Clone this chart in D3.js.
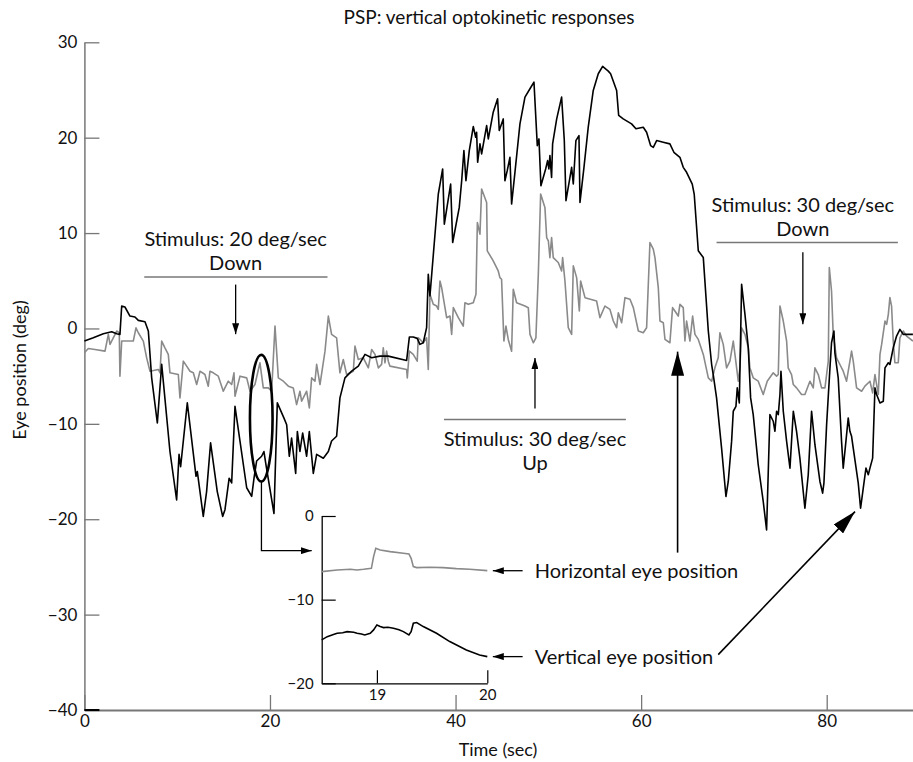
<!DOCTYPE html>
<html>
<head>
<meta charset="utf-8">
<title>PSP: vertical optokinetic responses</title>
<style>
  body { margin: 0; background: #fff; }
  text { font-family: Lato, "DejaVu Sans", sans-serif; fill: #111; }
</style>
</head>
<body>
<script src="https://cdn.jsdelivr.net/npm/d3@7/dist/d3.min.js"></script>
<script>

var width  = 913;
var height = 762;

// vertical eye position (black trace): time in sec, position in deg
var vertT = [0, 0.96, 2.04, 2.94, 3.48, 3.83, 4.02, 4.37, 4.91, 5.45, 5.81, 6.53, 6.89, 7.25, 7.86, 8.33, 9.22, 9.94, 10.2, 10.37,
  11.09, 12.03, 12.17, 12.81, 13.17, 13.6, 14.32, 14.9, 15.15, 15.6, 15.87, 16.23, 17.49, 18.03, 18.28, 18.56, 19.1, 19.35, 19.57, 20.43,
  20.79, 21.51, 21.8, 22.08, 22.33, 22.77, 22.95, 23.23, 23.52, 23.95, 24.24, 24.67, 25.03, 25.75, 26.29, 26.64, 27.18, 27.54, 28.08, 28.8,
  29.52, 30.24, 30.96, 31.85, 32.75, 34.73, 35.02, 35.44, 35.87, 36.16, 36.52, 36.88, 37.06, 37.24, 38.14, 38.61, 38.79, 39.47, 39.69, 40.4,
  40.66, 40.9, 41.12, 41.48, 41.91, 42.17, 42.27, 42.38, 42.63, 42.81, 43.35, 43.53, 44.06, 44.53, 44.71, 45.14, 45.32, 45.57, 45.86, 46.04,
  46.4, 46.94, 47.48, 48.02, 48.45, 48.81, 48.99, 49.2, 49.71, 49.92, 50.06, 50.17, 50.35, 50.46, 50.9, 51.43, 51.72, 51.9, 52.33, 52.51,
  52.69, 52.97, 53.3, 53.41, 53.84, 54.3, 54.84, 55.38, 55.85, 56.46, 56.71, 57.36, 57.58, 58.07, 58.97, 59.44, 60.23, 60.59, 61.02, 61.31,
  61.67, 62.38, 63.1, 63.53, 64.18, 64.54, 64.9, 65.51, 65.72, 66.16, 66.7, 67.24, 67.6, 67.77, 68.13, 68.67, 69.14, 69.39, 69.75, 69.93,
  70.22, 70.36, 70.58, 70.83, 71.19, 71.55, 71.8, 72.08, 72.62, 73.16, 73.52, 73.88, 74.24, 74.42, 74.6, 74.78, 74.96, 75.07, 75.32, 75.68,
  76.04, 76.4, 76.75, 77.11, 77.65, 78.01, 78.37, 78.73, 79.27, 79.56, 79.7, 79.99, 80.35, 80.52, 80.78, 80.88, 81.24, 81.6, 81.78, 82.07,
  82.32, 82.5, 82.68, 82.86, 83.4, 83.65, 83.94, 84.23, 84.48, 84.66, 84.95, 85.2, 85.38, 85.74, 86.1, 86.28, 86.64, 86.81, 87.17, 87.53,
  87.89, 88.25, 88.79, 89.29];
var vertV = [-1.32, -0.98, -0.55, -0.34, -0.55, -0.62, 2.35, 2.25, 1.3, 1.2, 0.85, 0.7, -0.27, -5.18, -9.91, -3.77, -12.9, -17.97, -13.2, -14.5,
  -7.8, -15.5, -15.0, -19.7, -17.1, -12.0, -17.1, -19.7, -19.0, -15.7, -16.2, -8.16, -16.7, -17.6, -15.7, -13.9, -13.4, -12.9, -14.3, -19.4,
  -7.8, -9.4, -10.1, -13.4, -11.5, -15.2, -10.8, -12.9, -10.96, -13.4, -10.8, -15.2, -13.2, -13.6, -12.9, -11.8, -11.3, -7.28, -5.18, -4.47,
  -3.95, -2.72, -3.07, -2.9, -2.9, -3.35, -0.9, -0.9, -1.04, -1.67, -1.5, 0.08, 5.68, 3.41, 14.09, 16.72, 10.94, 15.14, 9.01, 12.69,
  15.49, 18.65, 15.49, 18.65, 21.17, 20.04, 20.57, 17.42, 19.35, 18.3, 21.27, 19.87, 22.67, 24.08, 20.75, 21.97, 15.49, 16.54, 17.94, 13.04,
  16.37, 21.45, 24.25, 25.13, 25.83, 19.17, 19.87, 14.97, 16.72, 17.6, 16.72, 18.12, 15.84, 19.35, 21.97, 24.25, 19.7, 13.39, 15.84, 16.89,
  15.14, 19.7, 20.22, 13.21, 16.89, 21.1, 24.95, 26.7, 27.47, 26.98, 26.7, 24.95, 22.33, 21.97, 21.45, 20.93, 21.1, 20.57, 19.17, 18.99,
  19.7, 19.52, 19.35, 18.47, 17.94, 16.89, 16.37, 15.14, 14.09, 8.14, 7.43, -0.27, -3.78, -4.83, -7.28, -12.54, -17.62, -16.04, -11.84, -8.68,
  -8.16, -6.23, -7.81, 4.63, 1.48, -2.03, -7.28, -9.03, -14.29, -18.14, -21.12, -9.03, -9.73, -10.78, -8.68, -9.03, -6.93, -4.48, -8.68, -11.84,
  -14.64, -8.68, -10.78, -13.59, -18.85, -15.34, -8.68, -12.19, -16.04, -17.27, -16.22, -10.08, -4.13, -1.5, -0.27, -2.55, -5.18, -11.84, -14.64, -11.84,
  -9.38, -10.78, -11.31, -12.54, -16.22, -18.85, -16.74, -14.64, -15.34, -14.64, -13.59, -6.23, -6.93, -7.81, -7.63, -4.13, -3.6, -3.78, -2.03, -0.8,
  -0.1, -0.62, -0.62, -0.62];

// horizontal eye position (grey trace)
var horizT = [0, 0.42, 1.14, 2.22, 2.58, 2.76, 3.48, 3.76, 3.83, 4.02, 5.27, 5.56, 5.81, 6.35, 6.71, 7.07, 7.97, 8.15, 8.33, 8.68,
  9.04, 9.22, 10.12, 10.3, 10.66, 11.02, 11.38, 11.74, 12.1, 12.46, 12.99, 13.35, 13.53, 13.89, 14.43, 14.97, 15.51, 15.87, 16.12, 16.23,
  16.77, 17.49, 17.85, 18.38, 18.92, 19.28, 19.82, 20.18, 20.54, 20.9, 21.44, 21.98, 22.51, 22.87, 23.23, 23.41, 23.95, 24.24, 24.49, 24.85,
  25.03, 25.39, 25.93, 26.29, 26.64, 27.18, 27.54, 27.9, 28.26, 28.98, 29.16, 29.52, 30.06, 30.6, 30.96, 31.32, 31.68, 32.03, 32.21, 32.39,
  32.57, 32.75, 32.93, 34.73, 34.8, 35.02, 35.44, 35.87, 35.98, 36.16, 36.52, 36.88, 37.06, 37.24, 37.6, 37.96, 38.14, 38.32, 38.5, 38.86,
  39.04, 39.4, 39.58, 39.76, 40.3, 40.83, 41.01, 41.37, 41.91, 42.2, 42.35, 42.63, 42.81, 43.35, 43.42, 44.06, 44.6, 44.78, 44.96, 45.21,
  45.43, 45.68, 46.04, 46.22, 46.58, 47.48, 47.84, 48.02, 48.38, 48.66, 48.92, 49.17, 49.63, 49.82, 50.0, 50.17, 50.35, 50.53, 51.07, 51.43,
  51.54, 51.79, 52.15, 52.51, 52.69, 53.05, 53.34, 53.48, 53.95, 55.2, 55.56, 56.1, 56.64, 57.0, 57.36, 57.54, 57.9, 58.26, 58.8, 59.16,
  59.7, 60.23, 60.59, 60.95, 61.31, 61.49, 61.85, 62.03, 62.39, 62.57, 63.1, 63.39, 63.64, 64.0, 64.18, 64.54, 64.72, 64.9, 65.26, 65.55,
  65.8, 66.16, 66.7, 67.24, 67.6, 67.95, 68.31, 68.49, 68.85, 69.21, 69.57, 69.93, 70.11, 70.47, 70.65, 70.83, 71.19, 71.55, 71.72, 72.08,
  72.62, 73.16, 73.59, 74.24, 74.6, 74.78, 74.96, 75.32, 75.68, 75.85, 76.21, 76.4, 76.75, 77.29, 77.65, 78.19, 78.55, 78.73, 79.09, 79.45,
  79.81, 80.17, 80.28, 80.52, 80.7, 81.06, 81.42, 81.78, 82.14, 82.5, 82.68, 82.86, 83.22, 83.76, 84.12, 84.66, 84.95, 85.2, 85.56, 85.74,
  85.92, 86.28, 86.46, 86.64, 86.81, 86.99, 87.17, 87.35, 87.71, 87.89, 88.25, 88.61, 89.29];
var horizV = [-2.55, -2.1, -2.2, -2.38, -0.62, -1.67, -0.27, -0.45, -5.0, -1.32, -1.32, 0.07, -0.45, -1.32, -3.08, -4.48, -4.3, -4.65, -1.32, -2.03,
  -2.72, -4.65, -4.83, -7.28, -3.43, -3.95, -4.48, -4.65, -5.88, -4.48, -4.83, -6.05, -4.48, -4.65, -5.0, -6.58, -5.53, -5.88, -4.65, -7.1,
  -5.0, -5.18, -6.58, -5.88, -3.6, -6.23, -6.23, -6.58, 0.25, -5.18, -5.53, -6.05, -6.23, -7.98, -6.58, -7.63, -6.58, -8.33, -5.18, -5.53,
  -3.77, -5.88, -2.38, 1.3, -0.62, -0.98, -4.65, -3.25, -4.83, -4.48, -1.85, -3.25, -3.08, -4.13, -2.2, -2.72, -4.13, -3.77, -2.03, -3.6,
  -2.38, -3.43, -3.95, -4.3, -5.18, -2.38, -2.72, -3.43, -0.98, -1.15, -1.5, -0.98, -4.3, 3.58, 2.53, 2.35, 2.0, 4.98, 4.28, 2.18,
  1.13, 1.3, -0.62, 2.18, 1.13, 0.25, 2.7, 2.53, 2.7, 3.58, 11.11, 9.89, 14.62, 13.21, 8.14, 7.08, 6.03, 5.33, 5.16, -1.32,
  0.25, -1.15, -2.38, 4.11, 2.7, 2.35, 2.18, -0.62, -1.5, -0.98, 5.68, 14.09, 12.69, 9.53, 9.19, 7.43, 9.53, 7.43, 6.91, 6.03,
  7.43, 4.98, 0.08, -0.62, 6.56, 5.33, 1.83, 4.98, 3.23, 2.88, 1.13, 2.35, 2.0, 0.78, 0.08, 1.65, 0.6, 3.23, 3.06, 2.18,
  -0.27, -0.45, 0.08, 9.01, 8.31, 7.43, 4.28, 0.78, 0.6, -1.15, -1.5, 2.18, 1.83, 1.3, 2.53, 2.18, -1.32, 0.78, -1.32, 1.3,
  -0.62, -1.15, -2.72, -5.18, -5.53, -4.13, -3.08, -0.45, -1.67, -4.13, -3.43, -1.32, -2.72, -5.53, -4.13, 0.07, -0.62, -2.03, -4.13, -5.18,
  -5.53, -6.93, -5.53, -4.65, -5.0, -4.83, 2.35, 0.78, -1.32, -4.13, -4.83, -5.88, -6.23, -6.93, -6.93, -5.53, -6.23, -4.13, -4.83, -6.23,
  -6.23, -3.43, 6.38, 3.93, -0.62, -3.08, -3.78, -4.48, -5.53, -3.43, -2.38, -3.43, -6.23, -6.58, -6.05, -5.53, -6.76, -4.83, -6.93, -2.72,
  -1.67, 0.78, 0.43, 1.48, 3.23, 2.35, -1.32, -3.6, -3.6, -0.98, -0.27, -0.8, -1.32];

// inset: 19-20 sec detail
var insetHorizT = [18.5, 18.64, 18.76, 18.82, 18.88, 18.95, 18.97, 18.99, 19.03, 19.12, 19.24, 19.29, 19.31, 19.33, 19.36, 19.48, 19.6, 19.72, 19.84, 20.0];
var insetHorizV = [-6.65, -6.45, -6.37, -6.45, -6.37, -6.25, -4.86, -3.86, -4.06, -4.26, -4.46, -4.54, -5.06, -6.05, -6.17, -6.13, -6.17, -6.29, -6.37, -6.53];
var insetVertT = [18.5, 18.55, 18.6, 18.64, 18.69, 18.73, 18.79, 18.82, 18.86, 18.89, 18.94, 18.97, 19.0, 19.03, 19.06, 19.1, 19.15, 19.2, 19.24, 19.29,
  19.31, 19.33, 19.36, 19.42, 19.54, 19.66, 19.81, 19.93, 20.0];
var insetVertV = [-14.81, -14.42, -14.2, -14.02, -13.95, -13.82, -13.9, -14.02, -14.1, -14.22, -14.02, -13.62, -13.02, -13.22, -13.34, -13.3, -13.42, -13.6, -13.82, -14.22,
  -13.82, -12.82, -12.74, -13.22, -14.02, -15.01, -16.01, -16.61, -16.81];

var xTicks = [0, 20, 40, 60, 80];
var yTicks = [30, 20, 10, 0, -10, -20, -30, -40];
var insetXTicks = [19, 20];
var insetYTicks = [0, -10, -20];

var svg = d3.select("body")
	.append("svg")
	.attr("width", width)
	.attr("height", height);

var defs = svg.append("defs");
function marker(id, len, wid) {
	defs.append("marker")
		.attr("id", id)
		.attr("markerUnits", "userSpaceOnUse")
		.attr("viewBox", "0 0 " + len + " " + wid)
		.attr("refX", len).attr("refY", wid / 2)
		.attr("markerWidth", len).attr("markerHeight", wid)
		.attr("orient", "auto")
		.append("path")
		.attr("d", "M0,0L" + len + "," + (wid / 2) + "L0," + wid + "Z")
		.attr("fill", "#000");
}
marker("small", 11, 7);
marker("big", 24, 13);

var x = d3.scaleLinear().domain([0, 89.3]).range([84.4, 913]);
var y = d3.scaleLinear().domain([-40, 30]).range([710, 42.3]);

var axisColor = "#777";

// y axis
var gy = svg.append("g")
	.attr("transform", "translate(" + x(0) + ",0)")
	.call(d3.axisLeft(y).tickValues(yTicks).tickSize(-15).tickSizeOuter(0).tickPadding(7));
gy.select(".domain").attr("stroke", axisColor).attr("stroke-width", 1.5);
gy.selectAll(".tick line").attr("stroke", axisColor).attr("stroke-width", 1.3);
gy.selectAll(".tick text").style("font-size", "17px").attr("fill", "#111");

// x axis
var gx = svg.append("g")
	.attr("transform", "translate(0," + y(-40) + ")")
	.call(d3.axisBottom(x).tickValues(xTicks).tickSize(-15).tickSizeOuter(0).tickPadding(5));
gx.select(".domain").attr("stroke", axisColor).attr("stroke-width", 2);
gx.selectAll(".tick line").attr("stroke", axisColor).attr("stroke-width", 1.3);
gx.selectAll(".tick text").style("font-size", "17px").attr("fill", "#111");

svg.append("line")
	.attr("x1", x(0)).attr("x2", x(0) + 15)
	.attr("y1", y(-40)).attr("y2", y(-40))
	.attr("stroke", "#000").attr("stroke-width", 2);

svg.append("text")
	.attr("x", 489).attr("y", 24)
	.attr("text-anchor", "middle")
	.style("font-size", "19px")
	.text("PSP: vertical optokinetic responses");

svg.append("text")
	.attr("x", 498).attr("y", 756)
	.attr("text-anchor", "middle")
	.style("font-size", "18px")
	.text("Time (sec)");

svg.append("text")
	.attr("transform", "translate(26," + 370 + ") rotate(-90)")
	.attr("text-anchor", "middle")
	.style("font-size", "18px")
	.text("Eye position (deg)");

// traces
var line = d3.line()
	.x(function(d){ return x(d[0]); })
	.y(function(d){ return y(d[1]); });

svg.append("path")
	.datum(d3.zip(horizT, horizV))
	.attr("fill", "none")
	.attr("stroke", "#8a8a8a")
	.attr("stroke-width", 1.6)
	.attr("stroke-linejoin", "round")
	.attr("d", line);

svg.append("path")
	.datum(d3.zip(vertT, vertV))
	.attr("fill", "none")
	.attr("stroke", "#000")
	.attr("stroke-width", 1.6)
	.attr("stroke-linejoin", "round")
	.attr("d", line);

// stimulus annotations
function stimulus(t0, t1, v, tc, label1, label2, textAbove, a0, a1) {
	svg.append("line")
		.attr("x1", x(t0)).attr("x2", x(t1))
		.attr("y1", y(v)).attr("y2", y(v))
		.attr("stroke", "#777").attr("stroke-width", 1.5);
	var base = y(v);
	var y1 = textAbove ? base - 31 : base + 26;
	svg.append("text").attr("x", x(tc)).attr("y", y1)
		.attr("text-anchor", "middle").style("font-size", "20px").text(label1);
	svg.append("text").attr("x", x(tc)).attr("y", y1 + 24)
		.attr("text-anchor", "middle").style("font-size", "20px").text(label2);
	svg.append("line")
		.attr("x1", x(tc)).attr("x2", x(tc))
		.attr("y1", y(a0)).attr("y2", y(a1))
		.attr("stroke", "#000").attr("stroke-width", 1.3)
		.attr("marker-end", "url(#small)");
}
stimulus(6.45, 26.2, 5.4, 16.3, "Stimulus: 20 deg/sec", "Down", true, 4.6, -0.6);
stimulus(38.75, 58.36, -9.55, 48.56, "Stimulus: 30 deg/sec", "Up", false, -8.4, -3.1);
stimulus(68.13, 87.67, 9.0, 77.43, "Stimulus: 30 deg/sec", "Down", true, 8.0, 0.45);

// ellipse around 19-20 sec
svg.append("ellipse")
	.attr("cx", x(19.06)).attr("cy", y(-9.41))
	.attr("rx", x(19.06 + 1.22) - x(19.06))
	.attr("ry", y(-9.41 - 6.64) - y(-9.41))
	.attr("fill", "none").attr("stroke", "#000").attr("stroke-width", 2.6);

svg.append("path")
	.attr("d", d3.line()([[x(19.08), y(-16.1)], [x(19.08), y(-23.3)], [x(24.5), y(-23.3)]]))
	.attr("fill", "none").attr("stroke", "#000").attr("stroke-width", 1.3)
	.attr("marker-end", "url(#small)");

// inset
var ix = d3.scaleLinear().domain([18.5, 20]).range([321.7, 487.3]);
var iy = d3.scaleLinear().domain([-20, 0]).range([683.3, 516]);

var giy = svg.append("g")
	.attr("transform", "translate(" + ix(18.5) + ",0)")
	.call(d3.axisLeft(iy).tickValues(insetYTicks).tickSize(-14).tickSizeOuter(0).tickPadding(8));
var gix = svg.append("g")
	.attr("transform", "translate(0," + iy(-20) + ")")
	.call(d3.axisBottom(ix).tickValues(insetXTicks).tickFormat(d3.format("d"))
		.tickSize(-13).tickSizeOuter(0).tickPadding(6));
[giy, gix].forEach(function(g){
	g.select(".domain").attr("stroke", "#000").attr("stroke-width", 1.3);
	g.selectAll(".tick line").attr("stroke", "#000").attr("stroke-width", 1.2);
	g.selectAll(".tick text").style("font-size", "15px").attr("fill", "#111");
});

var iline = d3.line()
	.x(function(d){ return ix(d[0]); })
	.y(function(d){ return iy(d[1]); });

svg.append("path")
	.datum(d3.zip(insetHorizT, insetHorizV))
	.attr("fill", "none").attr("stroke", "#8a8a8a").attr("stroke-width", 1.6)
	.attr("d", iline);
svg.append("path")
	.datum(d3.zip(insetVertT, insetVertV))
	.attr("fill", "none").attr("stroke", "#000").attr("stroke-width", 1.6)
	.attr("d", iline);

function insetLabel(v, label) {
	svg.append("line")
		.attr("x1", ix(20.32)).attr("x2", ix(20.05))
		.attr("y1", iy(v)).attr("y2", iy(v))
		.attr("stroke", "#000").attr("stroke-width", 1.3)
		.attr("marker-end", "url(#small)");
	svg.append("text")
		.attr("x", ix(20.43)).attr("y", iy(v) + 7)
		.style("font-size", "20px").text(label);
}
insetLabel(-6.54, "Horizontal eye position");
insetLabel(-16.81, "Vertical eye position");

// long arrows to the main traces
svg.append("line")
	.attr("x1", x(63.93)).attr("x2", x(63.93))
	.attr("y1", y(-23.5)).attr("y2", y(-2.43))
	.attr("stroke", "#000").attr("stroke-width", 1.6)
	.attr("marker-end", "url(#big)");
svg.append("line")
	.attr("x1", x(68.31)).attr("x2", x(83.05))
	.attr("y1", y(-34.2)).attr("y2", y(-19.2))
	.attr("stroke", "#000").attr("stroke-width", 1.6)
	.attr("marker-end", "url(#big)");

</script>
</body>
</html>
